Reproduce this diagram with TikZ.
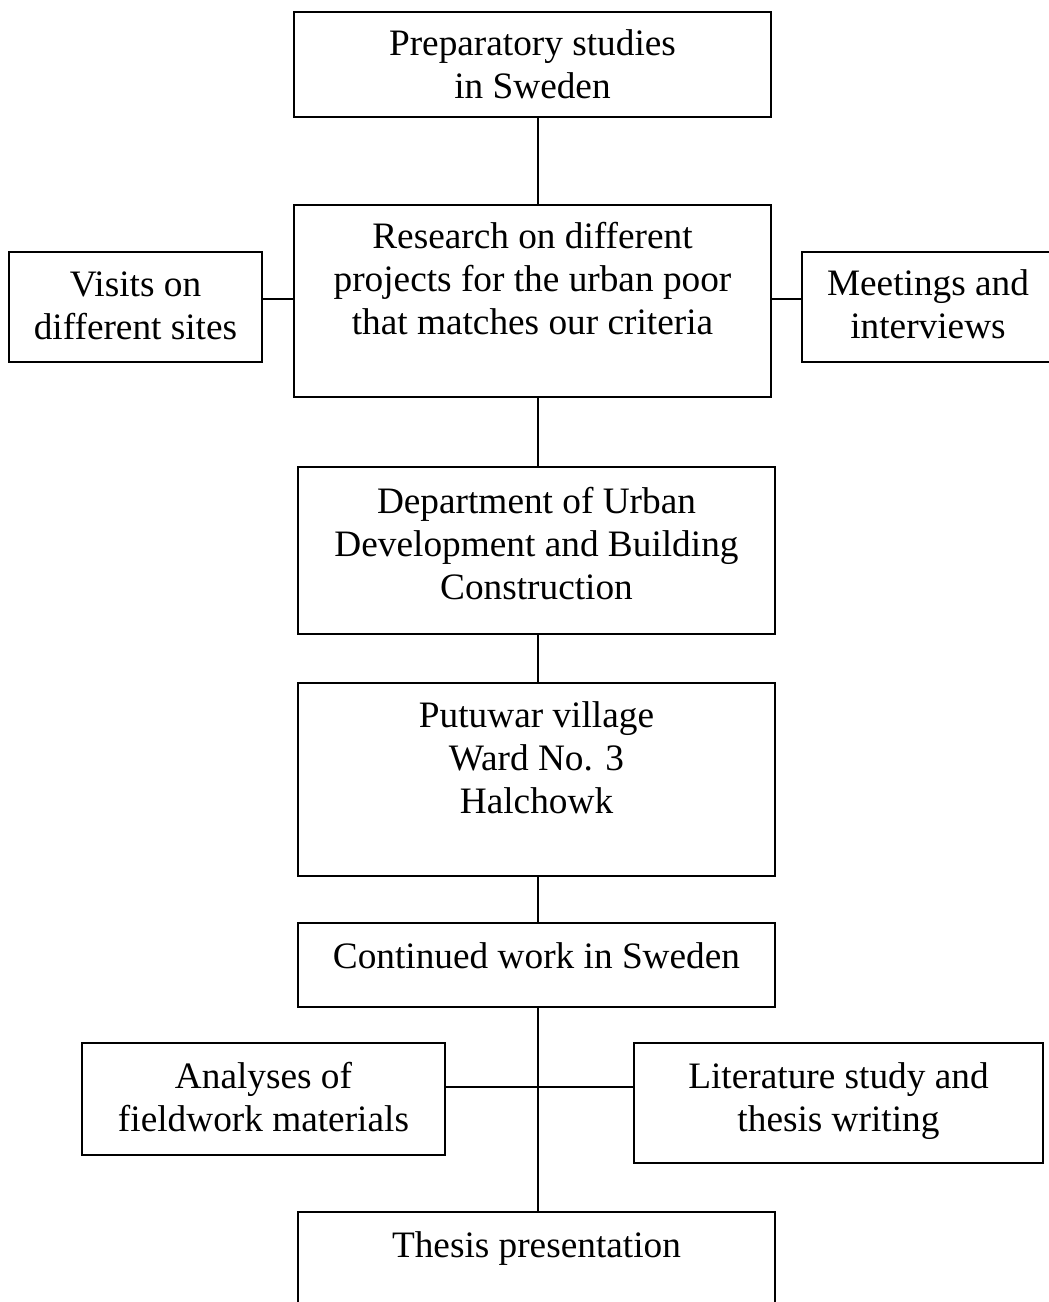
\documentclass[tikz,border=0pt]{standalone}
\usepackage{fontspec}
\setmainfont{Liberation Serif}
\newcommand\btext[4]{\parbox[c][#2][t]{#1}{\centering\fontsize{37.3}{43}\selectfont\rule{0pt}{#3}#4}}
\tikzset{
  stepbox/.style={draw, line width=1.6pt, inner sep=0pt, rectangle},
  conn/.style={draw, line width=1.6pt}
}
\begin{document}
\begin{tikzpicture}[x=1pt,y=-1pt]
\useasboundingbox (0,0) rectangle (1049,1302);
\clip (0,0) rectangle (1049,1302);
\node[stepbox] (b1) at (532.5,64.5) {\btext{477pt}{105pt}{43pt}{Preparatory studies\\in Sweden}};
\node[stepbox] (b2) at (532.5,301) {\btext{477pt}{192pt}{43pt}{Research on different\\projects for the urban poor\\that matches our criteria}};
\node[stepbox] (bL) at (135.5,307) {\btext{253pt}{110pt}{44pt}{Visits on\\different sites}};
\node[stepbox] (bR) at (928,307) {\btext{252pt}{110pt}{43pt}{Meetings and\\interviews}};
\node[stepbox] (b3) at (536.5,550.5) {\btext{477pt}{167pt}{46pt}{Department of Urban\\Development and Building\\Construction}};
\node[stepbox] (b4) at (536.5,779.5) {\btext{477pt}{193pt}{44pt}{Putuwar village\\Ward No. 3\\Halchowk}};
\node[stepbox] (b5) at (536.5,965) {\btext{477pt}{84pt}{45pt}{Continued work in Sweden}};
\node[stepbox] (bAL) at (263.5,1099) {\btext{363pt}{112pt}{45pt}{Analyses of\\fieldwork materials}};
\node[stepbox] (bAR) at (838.5,1103) {\btext{409pt}{120pt}{45pt}{Literature study and\\thesis writing}};
\node[stepbox] (b6) at (536.5,1271) {\btext{477pt}{118pt}{45pt}{Thesis presentation}};
\coordinate (sp) at (538,0);
\coordinate (h1) at (0,299);
\coordinate (h2) at (0,1087);
\draw[conn] (b1.south -| sp) -- (b2.north -| sp);
\draw[conn] (bL.east |- h1) -- (b2.west |- h1);
\draw[conn] (b2.east |- h1) -- (bR.west |- h1);
\draw[conn] (b2.south -| sp) -- (b3.north -| sp);
\draw[conn] (b3.south -| sp) -- (b4.north -| sp);
\draw[conn] (b4.south -| sp) -- (b5.north -| sp);
\draw[conn] (b5.south -| sp) -- (b6.north -| sp);
\draw[conn] (bAL.east |- h2) -- (bAR.west |- h2);
\end{tikzpicture}
\end{document}
